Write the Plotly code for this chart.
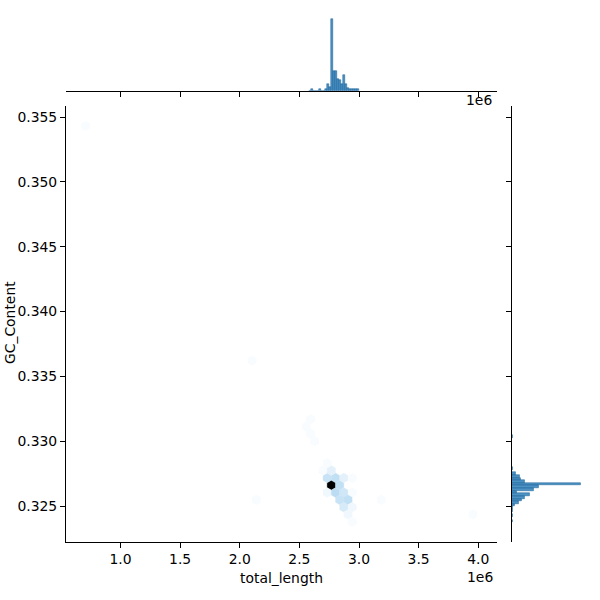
import colorsys
import plotly.graph_objects as go

# ---------------- data ----------------
# hexbin cells: centre total_length (bp), centre GC_Content, count
hex_total_length = [2.7678e6, 2.8376e6, 2.7329e6, 2.8027e6, 2.8726e6, 2.9424e6,
                    2.6979e6, 2.7678e6, 2.7329e6, 2.7329e6, 2.8027e6, 2.8726e6,
                    2.9424e6, 2.8376e6, 2.9075e6, 2.8726e6, 2.9424e6, 2.9075e6,
                    2.9424e6,
                    0.7072e6, 2.1042e6, 2.5582e6, 2.5932e6, 2.5932e6, 2.6281e6,
                    2.1391e6, 3.1869e6, 3.9552e6]
hex_gc = [0.32661, 0.32661, 0.32717, 0.32717, 0.32717, 0.32717,
          0.32774, 0.32774, 0.32831, 0.32604, 0.32604, 0.32604,
          0.32604, 0.32548, 0.32548, 0.32491, 0.32491, 0.32435,
          0.32378,
          0.35432, 0.33622, 0.33113, 0.33170, 0.33057, 0.33000,
          0.32548, 0.32548, 0.32435]
hex_count = [65, 10, 9, 10, 5, 2,
             2, 5, 2, 3, 11, 8,
             2, 9, 10, 7, 3, 3,
             2,
             2, 2, 2, 2, 2, 2,
             2, 2, 2]

# marginal histogram of total_length
top_hist_first_edge = 2.5805e6
top_hist_bin_width = 0.01677e6
top_hist_counts = [0, 1, 0, 0, 0, 1, 0, 0, 1, 5, 3, 55, 15, 15, 9, 8, 5, 12, 5, 2,
                   1, 1, 1, 1, 1]

# marginal histogram of GC_Content
right_hist_first_edge = 0.3237495
right_hist_bin_width = 0.000203
right_hist_counts = [1, 0, 1, 0, 1, 1, 2, 5, 8, 10, 14, 4, 17, 21, 53, 10, 7, 6, 3,
                     0, 1, 0, 0, 0, 0, 0, 0, 0, 0, 0, 0, 0, 1]

x_tick_values = [1.0e6, 1.5e6, 2.0e6, 2.5e6, 3.0e6, 3.5e6, 4.0e6]
x_tick_labels = ["1.0", "1.5", "2.0", "2.5", "3.0", "3.5", "4.0"]
y_tick_values = [0.325, 0.330, 0.335, 0.340, 0.345, 0.350, 0.355]
y_tick_labels = ["0.325", "0.330", "0.335", "0.340", "0.345", "0.350", "0.355"]

x_label = "total_length"
y_label = "GC_Content"
offset_label = "1e6"

# ---------------- style / geometry ----------------
FONT = "DejaVu Sans"
FS = 13.9
C0 = (31 / 255, 119 / 255, 180 / 255)
HEX_W = 0.06985e6          # hexbin cell width (sx)
HEX_H3 = 0.0011313 / 3     # sy / 3

X_RANGE = [0.5431e6, 4.1543e6]
Y_RANGE = [0.32225, 0.35585]

# seaborn-like hex colormap: C0 hue, lightness 1 -> 0 in 12 steps
h, l, s = colorsys.rgb_to_hls(*C0)
cmap_pts = [colorsys.hls_to_rgb(h, lv, s) for lv in [1 - i / 11 for i in range(12)]]


def cmap(p):
    p = min(max(p, 0.0), 1.0)
    pos = p * (len(cmap_pts) - 1)
    i = min(int(pos), len(cmap_pts) - 2)
    t = pos - i
    a, b = cmap_pts[i], cmap_pts[i + 1]
    r, g, bb = [(a[k] + (b[k] - a[k]) * t) * 255 for k in range(3)]
    return f"rgb({r:.0f},{g:.0f},{bb:.0f})"


vmin, vmax = 1, max(hex_count)

fig = go.Figure()

# hexbin cells
hex_dx = [0.5, 0.5, 0.0, -0.5, -0.5, 0.0, 0.5]
hex_dy = [-0.5, 0.5, 1.0, 0.5, -0.5, -1.0, -0.5]
for cx, cy, c in zip(hex_total_length, hex_gc, hex_count):
    col = cmap((c - vmin) / (vmax - vmin))
    fig.add_trace(go.Scatter(
        x=[cx + d * HEX_W for d in hex_dx],
        y=[cy + d * HEX_H3 for d in hex_dy],
        mode="lines", fill="toself", fillcolor=col,
        line=dict(color=col, width=0.3),
        hoverinfo="skip", showlegend=False, xaxis="x", yaxis="y"))

BAR_FILL = "rgba(31,119,180,0.8)"
BAR_EDGE = "rgba(25,95,150,1)"

# top marginal histogram
top_centers = [top_hist_first_edge + (i + 0.5) * top_hist_bin_width
               for i in range(len(top_hist_counts))]
fig.add_trace(go.Bar(
    x=top_centers, y=top_hist_counts, width=top_hist_bin_width,
    marker=dict(color=BAR_FILL, line=dict(color=BAR_EDGE, width=0.5)),
    xaxis="x2", yaxis="y2", showlegend=False, hoverinfo="skip"))

# right marginal histogram
right_centers = [right_hist_first_edge + (i + 0.5) * right_hist_bin_width
                 for i in range(len(right_hist_counts))]
fig.add_trace(go.Bar(
    y=right_centers, x=right_hist_counts, width=right_hist_bin_width,
    orientation="h",
    marker=dict(color=BAR_FILL, line=dict(color=BAR_EDGE, width=0.5)),
    xaxis="x3", yaxis="y3", showlegend=False, hoverinfo="skip"))

axis_common = dict(showgrid=False, zeroline=False, linecolor="black",
                   linewidth=1.1, ticks="outside", ticklen=5, tickwidth=1.1,
                   tickcolor="black", tickfont=dict(family=FONT, size=FS, color="black"))

MAIN_X = [66 / 600, 496.7 / 600]
MAIN_Y = [1 - 541.7 / 600, 1 - 106 / 600]

fig.update_layout(
    width=600, height=600,
    margin=dict(l=0, r=0, t=0, b=0),
    paper_bgcolor="white", plot_bgcolor="white",
    bargap=0,
    font=dict(family=FONT, size=FS, color="black"),
    xaxis=dict(domain=MAIN_X, range=X_RANGE, anchor="y", showline=True,
               tickvals=x_tick_values, ticktext=x_tick_labels, **axis_common),
    yaxis=dict(domain=MAIN_Y, range=Y_RANGE, anchor="x", showline=True,
               tickvals=y_tick_values, ticktext=y_tick_labels, **axis_common),
    xaxis2=dict(domain=MAIN_X, matches="x", anchor="y2", showline=True,
                tickvals=x_tick_values, showticklabels=False, **axis_common),
    yaxis2=dict(domain=[1 - 90.7 / 600, 1 - 15 / 600],
                range=[0, max(top_hist_counts) * 1.05], anchor="x2",
                visible=False),
    xaxis3=dict(domain=[511.7 / 600, 584.5 / 600],
                range=[0, max(right_hist_counts) * 1.05], anchor="y3",
                visible=False),
    yaxis3=dict(domain=MAIN_Y, matches="y", anchor="x3", showline=True,
                tickvals=y_tick_values, showticklabels=False, **axis_common),
    annotations=[
        dict(text=x_label, x=281 / 600, y=1 - 578 / 600, xref="paper", yref="paper",
             xanchor="center", yanchor="middle", showarrow=False,
             font=dict(family=FONT, size=FS, color="black")),
        dict(text=y_label, x=0, y=1 - 323 / 600, xref="paper", yref="paper",
             xanchor="left", yanchor="middle", showarrow=False, textangle=-90,
             font=dict(family=FONT, size=FS, color="black")),
        dict(text=offset_label, x=495 / 600, y=1 - 577 / 600, xref="paper", yref="paper",
             xanchor="right", yanchor="middle", showarrow=False,
             font=dict(family=FONT, size=FS, color="black")),
        dict(text=offset_label, x=494 / 600, y=1 - 100 / 600, xref="paper", yref="paper",
             xanchor="right", yanchor="middle", showarrow=False,
             font=dict(family=FONT, size=FS, color="black")),
    ],
)

fig.write_html("out.html",
               config={"displayModeBar": False},
               post_script="document.body.style.margin='0';"
                           "document.body.style.padding='0';")
